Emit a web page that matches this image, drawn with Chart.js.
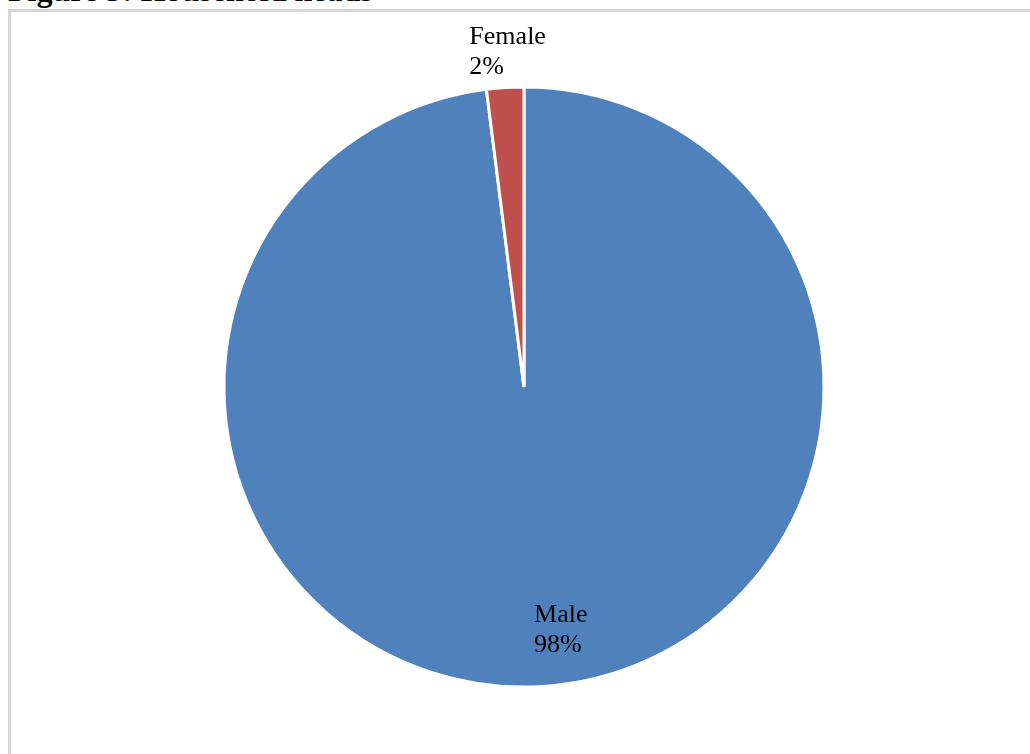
<!DOCTYPE html>
<html>
<head>
<meta charset="utf-8">
<script src="https://cdn.jsdelivr.net/npm/chart.js@4"></script>
<style>
  html, body { margin: 0; padding: 0; background: #fff; overflow: hidden; }
  #wrap { position: relative; width: 1030px; height: 754px; }
  #title {
    position: absolute; left: 8px; top: -26px;
    font: bold 32px/32px "Liberation Serif", "DejaVu Serif", serif;
    color: #000; white-space: nowrap;
  }
  #frame {
    position: absolute; left: 8px; top: 9px; width: 1100px; height: 800px;
    border-left: 3px solid #d6d6d6; border-top: 3px solid #d6d6d6;
  }
  #chart { position: absolute; left: 0; top: 0; }
</style>
</head>
<body>
<div id="wrap">
  <div id="title">Figure 5: Household heads</div>
  <div id="frame"></div>
  <canvas id="chart" width="1030" height="754"></canvas>
</div>
<script>
// 世帯主の性別構成
const categories = ['Male', 'Female'];
const shares = [98, 2];
const sliceColors = ['#4F81BD', '#C0504D'];

// ラベル位置: 半径に対する比率と角度の微調整(度)
const labelPlacement = [
  { radius: 0.82, nudge: -5 },
  { radius: 1.117, nudge: 0.8 }
];

// 分類名と割合を2行で描くプラグイン
const pieLabels = {
  id: 'pieLabels',
  afterDatasetsDraw(chart, args, opts) {
    const ctx = chart.ctx;
    const meta = chart.getDatasetMeta(0);
    const total = shares.reduce((a, b) => a + b, 0);
    ctx.save();
    ctx.font = opts.font;
    ctx.fillStyle = '#000';
    ctx.textBaseline = 'middle';
    ctx.textAlign = 'left';
    meta.data.forEach((arc, i) => {
      const p = arc.getProps(['x', 'y', 'startAngle', 'endAngle', 'outerRadius'], true);
      const place = labelPlacement[i];
      const mid = (p.startAngle + p.endAngle) / 2 + place.nudge * Math.PI / 180;
      const r = p.outerRadius * place.radius;
      const cx = p.x + Math.cos(mid) * r;
      const cy = p.y + Math.sin(mid) * r;
      const lines = [categories[i], Math.round(shares[i] / total * 100) + '%'];
      const w = Math.max(...lines.map(t => ctx.measureText(t).width));
      const left = cx - w / 2;
      const lh = opts.lineHeight;
      lines.forEach((t, k) => {
        ctx.fillText(t, left, cy + (k - (lines.length - 1) / 2) * lh);
      });
    });
    ctx.restore();
  }
};

const ctx = document.getElementById('chart').getContext('2d');
new Chart(ctx, {
  type: 'pie',
  data: {
    labels: categories,
    datasets: [{
      data: shares,
      backgroundColor: sliceColors,
      borderColor: '#ffffff',
      borderWidth: 3
    }]
  },
  options: {
    responsive: false,
    animation: false,
    events: [],
    radius: 300,
    layout: { padding: { top: 87, bottom: 67, left: 224, right: 206 } },
    plugins: {
      legend: { display: false },
      tooltip: { enabled: false },
      pieLabels: { font: '26px "Liberation Serif", serif', lineHeight: 30 }
    }
  },
  plugins: [pieLabels]
});
</script>
</body>
</html>
